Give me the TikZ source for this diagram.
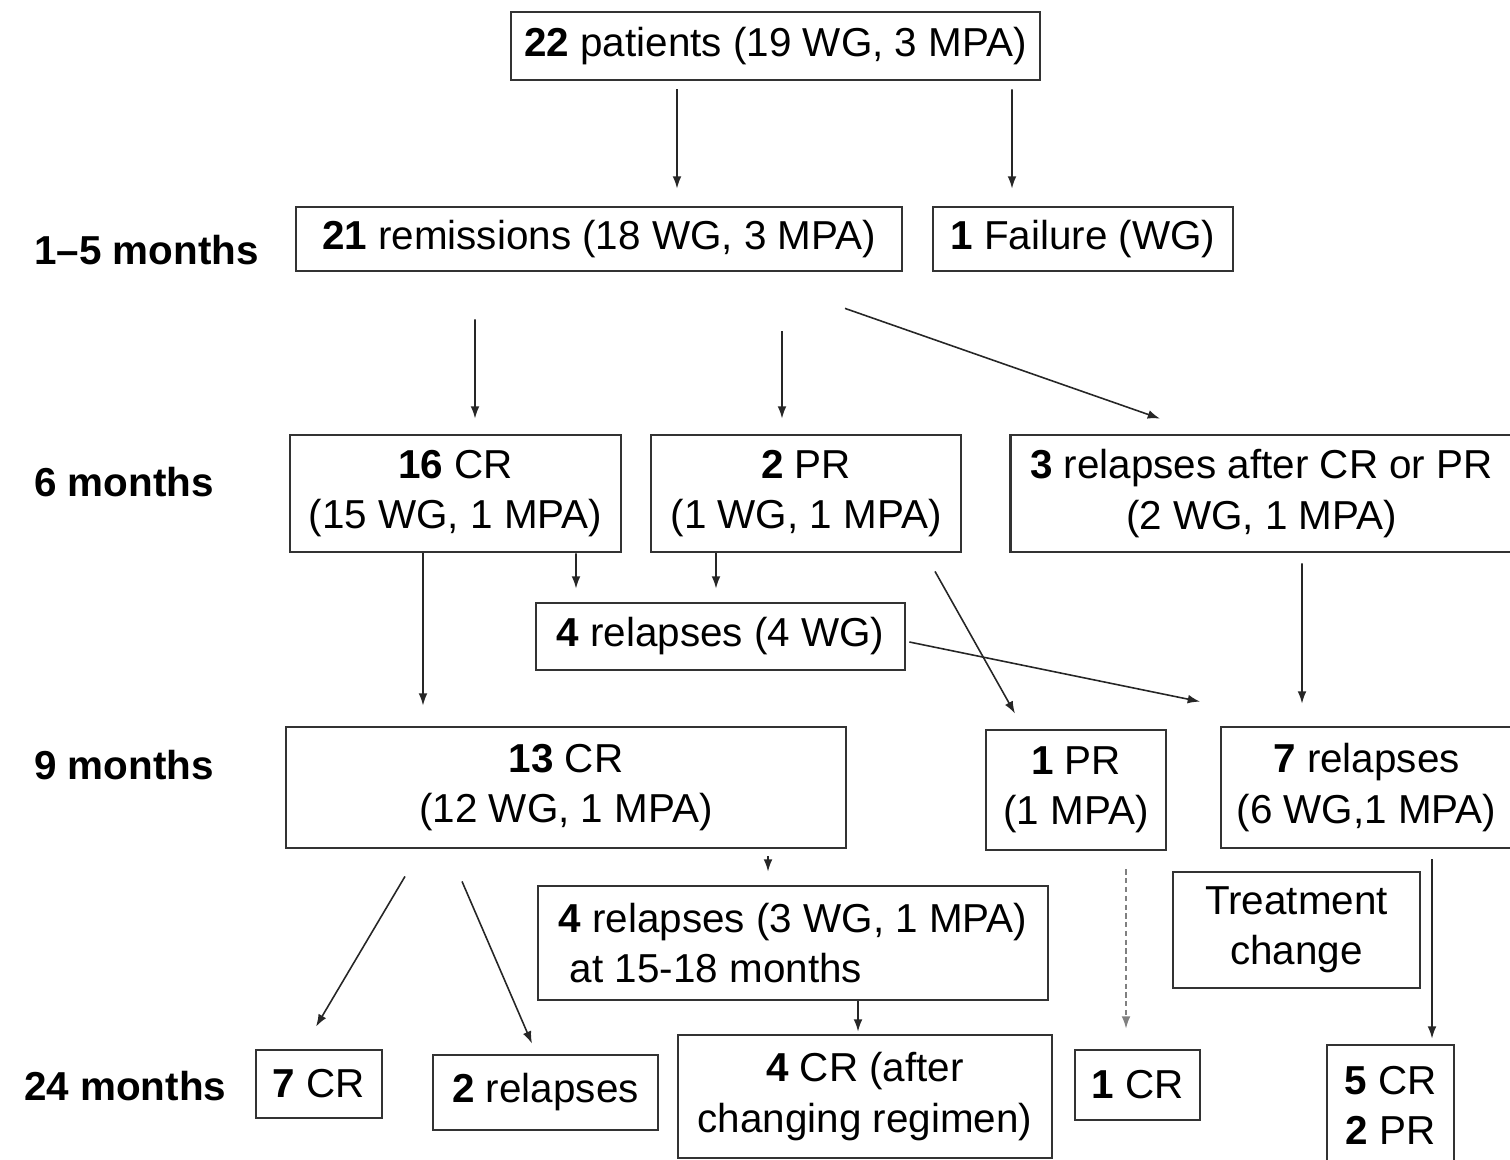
\documentclass[tikz,border=0pt]{standalone}
\usepackage{fontspec}
\setmainfont{Liberation Sans}
\usetikzlibrary{arrows.meta,calc}

\begin{document}
\begin{tikzpicture}[x=0.02cm, y=-0.02cm,
        bx/.style={draw=black!80, line width=1.6pt, inner sep=0pt, align=center,
          font=\fontsize{23}{28.5}\selectfont},
        lbl/.style={anchor=west, font=\fontsize{23}{28.5}\selectfont\bfseries},
        arr/.style={-{Latex[length=7pt,width=5pt]}, line width=0.9pt, black!85}]

      \useasboundingbox (0,0) rectangle (1510,1159);

      % time labels
      \node[lbl] (t1) at (28,250) {1--5 months};
      \node[lbl] (t2) at (28,482) {6 months};
      \node[lbl] (t3) at (28,765) {9 months};
      \node[lbl] (t4) at (18,1086) {24 months};

      % start
      \node[bx, minimum width=10.58cm, minimum height=1.36cm] (pat) at (775.5,46)
        {\textbf{22} patients (19 WG, 3 MPA)};

      % 1-5 months
      \node[bx, minimum width=12.12cm, minimum height=1.28cm] (rem) at (599,239)
        {\textbf{21} remissions (18 WG, 3 MPA)};
      \node[bx, minimum width=6cm, minimum height=1.28cm] (fail) at (1083,239)
        {\textbf{1} Failure (WG)};

      % 6 months
      \node[bx, minimum width=6.62cm, minimum height=2.34cm] (cr16) at (455.5,493.5)
        {\textbf{16} CR\\(15 WG, 1 MPA)};
      \node[bx, minimum width=6.2cm, minimum height=2.34cm] (pr2) at (806,493.5)
        {\textbf{2} PR\\(1 WG, 1 MPA)};
      \node[bx, minimum width=10.04cm, minimum height=2.34cm] (rel3) at (1261.5,493.5)
        {\textbf{3} relapses after CR or PR\\(2 WG, 1 MPA)};
      \node[bx, minimum width=7.38cm, minimum height=1.34cm] (rel4) at (720.5,636.5)
        {\textbf{4} relapses (4 WG)};

      % 9 months
      \node[bx, minimum width=11.2cm, minimum height=2.42cm] (cr13) at (566,787.5)
        {\textbf{13} CR\\(12 WG, 1 MPA)};
      \node[bx, minimum width=3.6cm, minimum height=2.4cm] (pr1) at (1076,790)
        {\textbf{1} PR\\(1 MPA)};
      \node[bx, minimum width=5.82cm, minimum height=2.42cm] (rel7) at (1366.5,787.5)
        {\textbf{7} relapses\\(6 WG,1 MPA)};
      \node[bx, minimum width=10.2cm, minimum height=2.28cm, align=left] (rel4b) at (793,943)
        {\textbf{4} relapses (3 WG, 1 MPA)\\\ at 15-18 months};
      \node[bx, minimum width=4.94cm, minimum height=2.32cm] (treat) at (1296.5,930)
        {Treatment\\change};

      % 24 months
      \node[bx, minimum width=2.52cm, minimum height=1.36cm] (cr7) at (319,1084)
        {\textbf{7} CR};
      \node[bx, minimum width=4.5cm, minimum height=1.5cm] (rel2) at (545.5,1092.5)
        {\textbf{2} relapses};
      \node[bx, minimum width=7.48cm, minimum height=2.46cm] (cr4) at (865,1096.5)
        {\textbf{4} CR (after\\changing regimen)};
      \node[bx, minimum width=2.5cm, minimum height=1.4cm] (cr1) at (1137.5,1085)
        {\textbf{1} CR};
      \node[bx, minimum width=2.54cm, minimum height=2.4cm] (cr5) at (1390.5,1105)
        {\textbf{5} CR\\\textbf{2} PR};

      % arrows
      \draw[arr] ($(pat.south)+(-98.5,8)$) -- ($(rem.north)+(78,-17)$);
      \draw[arr] ($(pat.south)+(236.5,8)$) -- ($(fail.north)+(-71,-17)$);
      \draw[arr] ($(rem.south)+(-124,47)$) -- ($(cr16.north)+(19.5,-15)$);
      \draw[arr] ($(rem.south)+(183,59)$) -- ($(pr2.north)+(-24,-15)$);
      \draw[arr] ($(rem.south)+(246,36)$) -- ($(rel3.north)+(-101.5,-15)$);
      \draw[arr] ($(cr16.south)+(120.5,0)$) -- ($(rel4.north)+(-144.5,-13)$);
      \draw[arr] ($(pr2.south)+(-90,0)$) -- ($(rel4.north)+(-4.5,-13)$);
      \draw[arr] ($(cr16.south)+(-32.5,0)$) -- ($(cr13.north)+(-143,-20)$);
      \draw[arr] ($(pr2.south)+(129,18)$) -- ($(pr1.north)+(-61,-15)$);
      \draw[arr] ($(rel4.east)+(3,5.5)$) -- ($(rel7.north)+(-166.5,-24)$);
      \draw[arr] ($(rel3.south)+(40.5,10)$) -- ($(rel7.north)+(-64.5,-22)$);
      \draw[arr] ($(cr13.south)+(202,7)$) -- ($(rel4b.north)+(-25,-13)$);
      \draw[arr] ($(cr13.south)+(-161,27)$) -- ($(cr7.north)+(-3,-22)$);
      \draw[arr] ($(cr13.south)+(-104,32)$) -- ($(rel2.north)+(-13.5,-10)$);
      \draw[arr] ($(rel4b.south)+(65,0)$) -- ($(cr4.north)+(-7,-2)$);
      \draw[arr, densely dashed, black!50] ($(pr1.south)+(50,18)$) -- ($(cr1.north)+(-11.5,-20)$);
      \draw[arr] ($(rel7.south)+(65.5,10)$) -- ($(cr5.north)+(41.5,-5)$);
    \end{tikzpicture}
\end{document}
